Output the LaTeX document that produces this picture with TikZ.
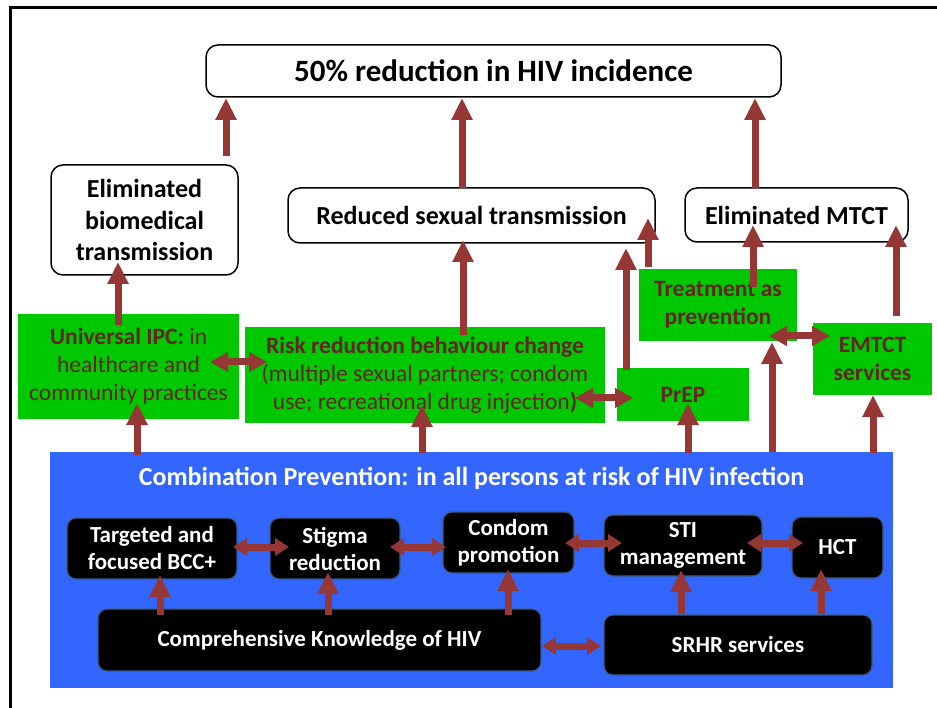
\documentclass[tikz,border=0pt]{standalone}
\usepackage{fontspec}
\setmainfont{Carlito}
\usetikzlibrary{arrows.meta,calc}
\definecolor{arrowred}{RGB}{149,55,53}
\definecolor{boxgreen}{RGB}{0,200,0}
\definecolor{greentext}{RGB}{99,37,35}
\definecolor{cpblue}{RGB}{51,102,255}
\definecolor{darkedge}{RGB}{56,93,138}
\tikzset{outcome/.style={draw, line width=1.5pt, rounded corners=12pt, fill=white, inner sep=0pt, outer sep=0pt, align=center, font=\bfseries\fontsize{26}{31.7}\selectfont}}
\tikzset{gbox/.style={fill=boxgreen, inner sep=0pt, outer sep=0pt, text=greentext, align=center, font=\fontsize{23.5}{28}\selectfont}}
\tikzset{kbox/.style={draw=darkedge, line width=1.2pt, fill=black, rounded corners=9pt, text=white, inner sep=0pt, outer sep=0pt, align=center, font=\bfseries\fontsize{23}{27}\selectfont}}
\tikzset{uparr/.style={draw=arrowred, line width=7pt, -{Triangle[width=20pt,length=22pt,color=arrowred]}}}
\tikzset{twoway/.style={draw=arrowred, line width=7pt, {Triangle[width=19pt,length=18pt,color=arrowred]}-{Triangle[width=19pt,length=18pt,color=arrowred]}}}
\tikzset{smalltwoway/.style={draw=arrowred, line width=7pt, {Triangle[width=17pt,length=14pt,color=arrowred]}-{Triangle[width=17pt,length=14pt,color=arrowred]}}}

\begin{document}
\begin{tikzpicture}[x=1pt,y=-1pt]
    \useasboundingbox (0,0) rectangle (937,708);
    \draw[line width=3pt] (10,708) -- (10,8) -- (937,8);

    % outcomes
    \node[outcome, minimum width=575, minimum height=52, font=\bfseries\fontsize{31}{36}\selectfont] (goal) at (493.5,71) {50\% reduction in HIV incidence};
    \node[outcome, minimum width=187, minimum height=110] (ebt) at (144.5,220) {Eliminated\\biomedical\\transmission};
    \node[outcome, minimum width=367, minimum height=55] (rst) at (471.5,215.5) {Reduced sexual transmission};
    \node[outcome, minimum width=223, minimum height=54] (emtct) at (796.5,215) {Eliminated MTCT};

    % interventions
    \node[gbox, minimum width=221, minimum height=105] (ipc) at (128.5,366.5) {\textbf{Universal IPC:} in\\healthcare and\\community practices};
    \node[gbox, minimum width=360, minimum height=96] (rrb) at (425,375) {\textbf{Risk reduction behaviour change}\\(multiple sexual partners; condom\\use; recreational drug injection\textbf{)}};
    \node[gbox, minimum width=132, minimum height=53, font=\bfseries\fontsize{23.5}{28}\selectfont] (prep) at (683,394.5) {PrEP};
    \node[gbox, minimum width=158, minimum height=72, font=\bfseries\fontsize{23.5}{28}\selectfont] (tasp) at (718,305) {Treatment as\\prevention};
    \node[gbox, minimum width=119, minimum height=72, font=\bfseries\fontsize{23.5}{28}\selectfont] (emsv) at (872.5,359) {EMTCT\\services};

    % combination prevention
    \node[fill=cpblue, minimum width=843, minimum height=236, inner sep=0pt, outer sep=0pt] (cp) at (471.5,570) {};
    \node[text=white, font=\bfseries\fontsize{26}{30}\selectfont] (cptitle) at (471.5,478) {Combination Prevention: in all persons at risk of HIV infection};
    \node[kbox, minimum width=170, minimum height=61] (bcc) at (152,548.5) {Targeted and\\focused BCC+};
    \node[kbox, minimum width=130, minimum height=61] (stig) at (335,548.5) {Stigma\\reduction};
    \node[kbox, minimum width=131, minimum height=61] (cond) at (508.5,542.5) {Condom\\promotion};
    \node[kbox, minimum width=158, minimum height=61] (sti) at (683,545.5) {STI\\management};
    \node[kbox, minimum width=91, minimum height=61] (hct) at (837.5,547.5) {HCT};
    \node[kbox, minimum width=443, minimum height=62] (ckh) at (319.5,640) {Comprehensive Knowledge of HIV};
    \node[kbox, minimum width=268, minimum height=60] (srhr) at (738,645) {SRHR services};

    % arrows up to the outcomes
    \draw[uparr] ($(ebt.north)+(81.5,-9)$) -- ($(goal.south)+(-267.5,1)$);
    \draw[uparr] ($(rst.north)+(-9.5,0)$) -- ($(goal.south)+(-31.5,1)$);
    \draw[uparr] ($(emtct.north)+(-41.5,0)$) -- ($(goal.south)+(261.5,1)$);
    \draw[uparr] ($(ipc.north)+(-10.5,11)$) -- ($(ebt.south)+(-26.5,-13)$);
    \draw[uparr] ($(rrb.north)+(38,8)$) -- ($(rst.south)+(-8.5,-3)$);
    \draw[uparr] ($(tasp.north)+(-70,-2)$) -- ($(rst.south)+(176.5,-25)$);
    \draw[uparr] ($(prep.north)+(-57,2)$) -- ($(rst.south)+(154.5,5)$);
    \draw[uparr] ($(tasp.north)+(35,18)$) -- ($(emtct.south)+(-43.5,-17)$);
    \draw[uparr] ($(emsv.north)+(23.5,-7)$) -- ($(emtct.south)+(99.5,-17)$);

    % arrows from combination prevention
    \draw[uparr] ($(cp.north)+(-334.5,3)$) -- ($(ipc.south)+(8.5,-16)$);
    \draw[uparr] ($(cp.north)+(-49.5,1)$) -- ($(rrb.south)+(-3,-18)$);
    \draw[uparr] ($(cp.north)+(216.5,1)$) -- ($(prep.south)+(5,-18)$);
    \draw[uparr] ($(cp.north)+(300.5,0)$) -- ($(tasp.south)+(54,1)$);
    \draw[uparr] ($(cp.north)+(401.5,1)$) -- ($(emsv.south)+(0.5,0)$);

    \draw[twoway] ($(ipc.east)+(-29,-4.5)$) -- ($(rrb.west)+(22,-13)$);
    \draw[twoway] ($(rrb.east)+(-30,23)$) -- ($(prep.west)+(16,3.5)$);
    \draw[twoway] ($(tasp.east)+(-28,31)$) -- ($(emsv.west)+(17,-23)$);

    % inside the blue box
    \draw[smalltwoway] ($(bcc.east)+(-4,-1.5)$) -- ($(stig.west)+(19,-1.5)$);
    \draw[smalltwoway] ($(stig.east)+(-10,-1.5)$) -- ($(cond.west)+(3,4.5)$);
    \draw[smalltwoway] ($(cond.east)+(-9,0.5)$) -- ($(sti.west)+(18,-2.5)$);
    \draw[smalltwoway] ($(sti.east)+(-15,-2.5)$) -- ($(hct.west)+(11,-4.5)$);
    \draw[smalltwoway] ($(ckh.east)+(1,6)$) -- ($(srhr.west)+(-3,1)$);
    \draw[uparr] ($(ckh.north)+(-159.5,6)$) -- ($(bcc.south)+(8,-4)$);
    \draw[uparr] ($(ckh.north)+(8.5,6)$) -- ($(stig.south)+(-7,-7)$);
    \draw[uparr] ($(ckh.north)+(188.5,6)$) -- ($(cond.south)+(-0.5,-4)$);
    \draw[uparr] ($(srhr.north)+(-57,-1)$) -- ($(sti.south)+(-2,-6)$);
    \draw[uparr] ($(srhr.north)+(83,-1)$) -- ($(hct.south)+(-16.5,-9)$);
\end{tikzpicture}
\end{document}
